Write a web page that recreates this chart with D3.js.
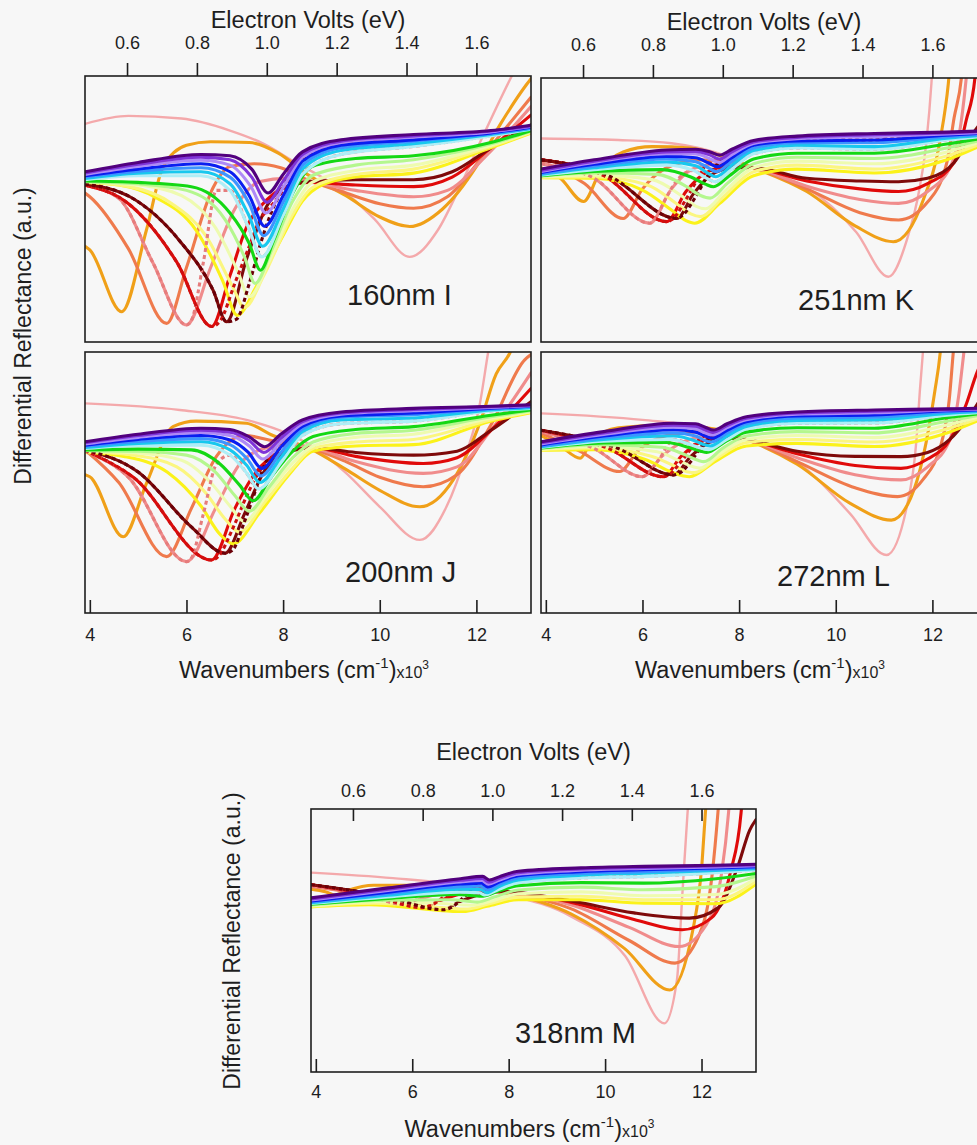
<!DOCTYPE html>
<html>
<head>
<meta charset="utf-8">
<script src="https://cdn.jsdelivr.net/npm/d3@7"></script>
<style>
  html, body { margin: 0; padding: 0; background: #f7f7f7; }
  svg { display: block; font-family: "Liberation Sans", Arial, Helvetica, sans-serif; }
</style>
</head>
<body>
<svg id="chart" width="977" height="1145"></svg>
<script>
// ---------- data ----------
const evTicks = [0.6, 0.8, 1.0, 1.2, 1.4, 1.6];
const wnTicks = [4, 6, 8, 10, 12];
// eV axis anchors: [eV, wavenumber x10^3 position]
const evAnchors = [[0.6, 4.77], [1.6, 12.0]];
const wnDomain = [3.9, 13.13];
const panelLabels = ["160nm I", "200nm J", "251nm K", "272nm L", "318nm M"];

// series order: pink, orange, orange-red, salmon, red, maroon,
// dashed salmon, dashed red, dashed maroon,
// yellow, light yellow, pale yellow-green, light green, green,
// pale cyan, cyan, light blue, blue, lavender, purple, dark purple
// points: [wavenumber (x10^3 cm^-1), reflectance (a.u., 0-100)]
const curves160 = [
  [[3.9,82],[4.8,85],[5.9,84],[6.9,79.5],[7.6,74.5],[8.3,67],[8.8,62],[9.3,56],[9.9,46],[10.62,32],[11.2,42],[11.65,58],[12.1,76],[12.69,98.5],[12.9,106]],
  [[3.9,36],[4.0,34.6],[4.66,11.4],[5.17,42],[5.52,66],[6.0,74],[6.5,75.3],[7.3,75],[7.9,71],[8.5,63],[9.3,55],[10.0,47],[10.62,43.4],[11.3,50],[12.0,66],[12.5,82],[13.03,96.6],[13.13,99]],
  [[3.9,56],[4.0,54.6],[4.8,35],[5.59,7],[6.0,28],[6.55,58],[6.9,66],[7.4,67],[7.95,65.5],[8.5,61],[9.3,56],[10.0,52],[10.7,50.3],[11.4,54.6],[12.1,69],[12.5,78],[13.13,92]],
  [[3.9,59],[4.6,54],[5.3,30],[6.0,6.4],[6.5,28],[7.0,50],[7.52,60.3],[8.07,61.5],[8.55,60.3],[9.5,57],[10.7,54.6],[11.4,57],[12.2,70],[13.13,88.5]],
  [[3.9,59],[4.8,52],[5.8,30],[6.52,5.8],[6.9,25],[7.24,43],[7.66,53.4],[8.07,58.4],[8.55,60],[9.5,59],[10.7,58.4],[11.5,62],[12.3,73],[13.13,85.3]],
  [[3.9,59.3],[4.83,54.6],[5.86,38],[6.55,19.5],[6.83,7.6],[7.24,31],[7.66,51],[8.07,58.4],[8.55,60.3],[9.5,61],[10.7,61],[11.5,64],[12.3,73],[13.13,81.6]],
  [[3.9,59],[4.6,54],[5.3,30],[6.0,6.4],[6.1,8],[6.35,30],[6.62,57],[6.9,57],[7.26,44],[7.56,32],[8.0,47.5],[8.4,63],[9.2,70.5],[10.7,73.5],[12.3,77.5],[13.13,80]],
  [[3.9,59],[4.8,52],[5.8,30],[6.52,5.8],[6.7,8],[7.0,22],[7.3,36],[7.52,46],[7.7,50],[8.0,57],[8.4,68],[9.2,74],[10.7,76],[12.3,78.6],[13.13,80.8]],
  [[3.9,59.3],[4.83,54.6],[5.86,38],[6.55,19.5],[6.83,7.6],[7.03,8.5],[7.3,22],[7.55,38],[7.72,47],[8.0,58],[8.4,69.5],[9.2,75],[10.7,77],[12.3,79],[13.13,81]],
  [[3.9,60],[4.6,59],[5.4,54],[6.2,42],[6.75,23],[7.05,10],[7.45,21],[8.0,40],[8.4,53],[8.8,59],[9.5,62],[10.7,63.5],[12.3,73],[13.13,78.5]],
  [[3.9,60.1],[4.8,58.5],[5.7,52],[6.4,40],[6.95,21],[7.2,13],[7.6,25],[8.2,48],[8.6,58],[9.5,63],[10.7,65],[12.3,73.5],[13.13,78.8]],
  [[3.9,60.2],[5.0,59],[5.9,55],[6.6,43],[7.05,27],[7.3,17],[7.7,30],[8.2,50],[8.6,60],[9.5,64.5],[10.7,66.5],[12.3,74],[13.13,79]],
  [[3.9,60.3],[5.0,59.5],[6.0,57],[6.8,46],[7.2,32],[7.42,22],[7.75,34],[8.2,53],[8.6,62.5],[9.5,66.5],[10.7,68.5],[12.3,74.5],[13.13,79.2]],
  [[3.9,60.5],[5.0,60],[6.1,58.4],[6.9,48.5],[7.3,37],[7.53,27],[7.8,38],[8.2,56],[8.6,66],[9.5,69],[10.7,70],[12.3,75],[13.13,79.5]],
  [[3.9,61],[5.0,62.5],[6.3,62.5],[6.9,57],[7.26,44],[7.56,32],[8.0,47.5],[8.4,63],[9.2,70.5],[10.7,73.5],[12.3,77.5],[13.13,80]],
  [[3.9,61.5],[5.0,63.5],[6.3,64],[6.9,59.5],[7.28,48],[7.58,36],[8.0,50],[8.4,65],[9.2,72],[10.7,74.5],[12.3,78],[13.13,80.2]],
  [[3.9,62],[5.0,64.2],[6.3,65.5],[6.9,62],[7.3,52],[7.6,40],[8.0,52.5],[8.4,66.5],[9.2,73],[10.7,75.5],[12.3,78.3],[13.13,80.5]],
  [[3.9,62.5],[5.0,65],[6.3,67],[6.9,64],[7.3,55],[7.62,43.5],[8.0,55],[8.4,68],[9.2,74],[10.7,76],[12.3,78.6],[13.13,80.8]],
  [[3.9,63],[5.0,66],[6.3,68.3],[6.9,66.5],[7.33,58.5],[7.65,48.5],[8.0,58],[8.4,69.5],[9.2,75],[10.7,77],[12.3,79],[13.13,81]],
  [[3.9,63.5],[5.0,66.8],[6.3,69.5],[6.9,68.5],[7.35,62],[7.67,52.5],[8.0,60.5],[8.4,70.5],[9.2,75.5],[10.7,77.5],[12.3,79.3],[13.13,81.2]],
  [[3.9,64],[5.0,67.5],[6.3,70.5],[6.9,70],[7.35,65],[7.69,56],[8.0,63],[8.4,71.5],[9.2,76],[10.7,78],[12.3,79.5],[13.13,81.5]]
];

const curves200 = [
  [[3.9,80.3],[5.86,77.8],[7.24,74],[7.93,70],[8.62,63.7],[9.31,53.5],[10.0,40.7],[10.83,28],[11.38,40.7],[11.79,61],[12.07,80],[12.24,99.5],[12.3,106]],
  [[3.9,53],[4.0,52.2],[4.69,29.2],[5.17,49.6],[5.72,71.4],[6.2,73.5],[7.24,72.7],[7.79,68],[8.55,63],[9.3,55],[10.0,47],[10.83,40.7],[11.52,51],[12.07,72.7],[12.41,91.6],[12.69,99.5],[12.8,104]],
  [[3.9,62.5],[4.6,50],[5.59,21.6],[6.1,40],[6.62,60],[7.2,68],[7.79,66],[8.55,63.3],[9.3,58],[10.0,52],[10.9,48.4],[11.6,53],[12.3,72],[13.0,97],[13.13,99]],
  [[3.9,62],[4.8,52],[6.0,19.7],[6.6,40],[7.1,57],[7.6,63],[8.1,64.5],[8.62,63.3],[9.5,58],[10.9,53.5],[11.6,56],[12.3,70],[13.13,92]],
  [[3.9,62.3],[4.9,52],[6.52,20.3],[7.0,40],[7.4,53],[7.9,61],[8.62,63.3],[9.5,60],[10.9,57.3],[11.6,59.5],[12.3,70],[13.13,86]],
  [[3.9,62.5],[5.0,54],[6.1,33],[6.8,22.9],[7.2,38],[7.6,54],[8.1,61.5],[8.62,63.3],[9.5,61.5],[10.7,60.5],[11.6,62],[12.3,70],[13.13,81]],
  [[3.9,62],[4.8,52],[6.0,19.7],[6.1,21],[6.35,38],[6.62,57],[6.9,60.5],[7.23,54],[7.5,47.5],[7.95,57.5],[8.4,68],[9.2,72.5],[10.7,73.5],[12.3,77.4],[13.13,78.4]],
  [[3.9,62.3],[4.9,52],[6.52,20.3],[6.65,21.5],[6.95,32],[7.25,45],[7.5,54],[7.7,58],[7.95,63.5],[8.4,71.5],[9.2,75.5],[10.7,76.6],[12.3,78.5],[13.13,79.2]],
  [[3.9,62.5],[5.0,54],[6.1,33],[6.8,22.9],[6.95,24],[7.2,35],[7.45,48],[7.6,56],[7.95,65.5],[8.4,72.5],[9.2,76.2],[10.7,77.5],[12.3,78.8],[13.13,79.4]],
  [[3.9,61.5],[4.7,60],[5.6,54],[6.3,41],[6.7,30],[6.97,26.5],[7.5,38],[8.1,52.5],[8.62,62],[9.5,64],[10.7,64.5],[12.3,73.5],[13.13,76.8]],
  [[3.9,61.8],[4.9,60.5],[5.8,56],[6.4,46],[6.8,36],[7.1,31],[7.6,42],[8.2,55.5],[8.62,63],[9.5,65.5],[10.7,66.5],[12.3,74],[13.13,77]],
  [[3.9,62],[5.0,61.3],[5.9,58.5],[6.5,50],[6.9,41],[7.2,35],[7.65,45],[8.2,57.5],[8.62,64],[9.5,67.3],[10.7,68.5],[12.3,74.6],[13.13,77.2]],
  [[3.9,62.2],[5.0,62],[6.0,60.5],[6.6,54],[7.0,45],[7.3,39],[7.7,48],[8.2,59.5],[8.62,65.5],[9.5,68.8],[10.7,70],[12.3,75.2],[13.13,77.5]],
  [[3.9,62.5],[5.0,62.8],[6.1,62.5],[6.7,57],[7.1,49],[7.38,43],[7.75,52],[8.2,62],[8.62,67.6],[9.5,70.3],[10.7,71.4],[12.3,75.8],[13.13,77.8]],
  [[3.9,63],[5.0,64.2],[6.3,64.3],[6.9,60.5],[7.23,54],[7.5,47.5],[7.95,57.5],[8.4,68],[9.2,72.5],[10.7,73.5],[12.3,77.4],[13.13,78.4]],
  [[3.9,63.4],[5.0,65],[6.3,65.6],[6.9,62.5],[7.25,56.5],[7.52,50],[7.95,59.5],[8.4,69.5],[9.2,74],[10.7,74.7],[12.3,77.8],[13.13,78.7]],
  [[3.9,63.8],[5.0,65.7],[6.3,66.8],[6.9,64.5],[7.26,59],[7.54,52.5],[7.95,61.5],[8.4,70.5],[9.2,75],[10.7,76],[12.3,78.2],[13.13,79]],
  [[3.9,64.3],[5.0,66.5],[6.3,68],[6.9,66.3],[7.28,61.5],[7.56,55.4],[7.95,63.5],[8.4,71.5],[9.2,75.5],[10.7,76.6],[12.3,78.5],[13.13,79.2]],
  [[3.9,64.8],[5.0,67.3],[6.3,69.2],[6.9,68],[7.3,64],[7.58,59],[7.95,65.5],[8.4,72.5],[9.2,76.2],[10.7,77.5],[12.3,78.8],[13.13,79.4]],
  [[3.9,65.2],[5.0,68],[6.3,70],[6.9,69.3],[7.3,66],[7.6,61.5],[7.95,67],[8.4,73.3],[9.2,76.6],[10.7,78],[12.3,79],[13.13,79.6]],
  [[3.9,65.6],[5.0,68.5],[6.3,70.8],[6.9,70.3],[7.3,67.5],[7.62,63.7],[7.95,68.5],[8.4,74],[9.2,77],[10.7,78.4],[12.3,79.2],[13.13,79.8]]
];

const curves251 = [
  [[3.9,77.1],[5.5,76.5],[6.6,75.3],[7.8,70],[8.3,65.8],[9.4,58.5],[10.43,41.5],[11.09,24.7],[11.47,38.6],[11.74,58.8],[11.88,76.5],[11.98,98],[12.02,110]],
  [[3.9,66],[4.3,62],[4.78,53.2],[5.12,64.4],[5.6,72],[6.2,74],[7.0,73.5],[7.7,70],[8.3,66],[9.4,57],[10.4,44],[11.19,38],[11.81,53.8],[12.16,76.5],[12.33,98],[12.38,108]],
  [[3.9,68],[4.8,60],[5.6,46.8],[6.0,58],[6.5,66],[7.2,69],[7.8,68],[8.3,66],[9.4,58],[10.5,49],[11.3,46.2],[11.9,53],[12.3,68],[12.45,85],[12.6,100],[12.64,108]],
  [[3.9,67.5],[5.0,62],[6.15,45],[6.6,58],[7.1,66],[7.7,67.5],[8.3,66],[9.4,59],[10.5,54],[11.3,52.5],[11.9,57],[12.4,67.5],[12.6,84],[12.7,100],[12.74,108]],
  [[3.9,69],[5.2,63],[6.5,45.6],[6.9,57],[7.3,64],[7.8,66.5],[8.3,66],[9.4,61],[10.5,58],[11.3,57],[11.9,60],[12.45,68],[12.7,84],[12.88,100],[12.92,108]],
  [[3.9,69],[5.3,63],[6.71,46.8],[7.05,56],[7.4,63],[7.9,66],[8.3,66],[9.4,62],[10.5,61],[11.3,60.7],[11.9,62],[12.45,68],[12.8,78],[13.13,86]],
  [[3.9,67.5],[5.0,62],[6.15,45],[6.25,46.5],[6.5,55],[6.75,62],[7.05,65],[7.33,62],[7.5,60.7],[7.85,65.5],[8.3,71.3],[9.2,73.5],[10.8,73],[12.3,76.5],[13.13,78]],
  [[3.9,69],[5.2,63],[6.5,45.6],[6.62,46.5],[6.9,54],[7.15,62],[7.37,67.8],[7.55,66.4],[7.85,69.8],[8.3,74.5],[9.2,76.2],[10.8,76.5],[12.3,78.3],[13.13,79.2]],
  [[3.9,69],[5.3,63],[6.71,46.8],[6.83,48],[7.1,55],[7.35,63],[7.58,68],[7.85,71],[8.3,75.2],[9.2,77],[10.8,77.8],[12.3,78.8],[13.13,79.5]],
  [[3.9,62.2],[5.0,62],[6.0,57.5],[6.6,50],[6.9,46],[7.08,45],[7.6,52.5],[8.3,63],[9.2,65.5],[10.8,64],[12.3,69],[13.13,75.5]],
  [[3.9,62.4],[5.0,62.6],[6.1,59.5],[6.7,52.5],[7.0,48.5],[7.2,47.5],[7.65,54.5],[8.3,64.5],[9.2,67],[10.8,65.5],[12.3,70.5],[13.13,76]],
  [[3.9,62.6],[5.0,63.3],[6.2,61.5],[6.8,55.5],[7.1,51.5],[7.3,50.5],[7.7,57],[8.3,66],[9.2,68.5],[10.8,67.5],[12.3,72],[13.13,76.5]],
  [[3.9,62.8],[5.0,64],[6.3,63.5],[6.9,59],[7.2,55.5],[7.4,54.5],[7.75,60],[8.3,67.5],[9.2,70],[10.8,69.5],[12.3,73.5],[13.13,77]],
  [[3.9,63],[5.0,64.6],[6.4,65.3],[7.0,62.5],[7.3,59.8],[7.47,58.8],[7.8,63],[8.3,69.3],[9.2,71.5],[10.8,71.5],[12.3,75],[13.13,77.5]],
  [[3.9,63.2],[5.0,65.3],[6.5,67],[7.05,65],[7.33,62],[7.5,60.7],[7.85,65.5],[8.3,71.3],[9.2,73.5],[10.8,73],[12.3,76.5],[13.13,78]],
  [[3.9,63.5],[5.0,66],[6.5,68.2],[7.1,66.8],[7.35,64],[7.52,62.6],[7.85,67],[8.3,72.5],[9.2,74.5],[10.8,74],[12.3,77.2],[13.13,78.4]],
  [[3.9,63.8],[5.0,66.6],[6.5,69.3],[7.1,68.3],[7.36,66],[7.53,64.5],[7.85,68.5],[8.3,73.5],[9.2,75.5],[10.8,75.5],[12.3,77.8],[13.13,78.8]],
  [[3.9,64.2],[5.0,67.3],[6.5,70.3],[7.1,69.8],[7.37,67.8],[7.55,66.4],[7.85,69.8],[8.3,74.5],[9.2,76.2],[10.8,76.5],[12.3,78.3],[13.13,79.2]],
  [[3.9,64.6],[5.0,68],[6.5,71.3],[7.1,71.2],[7.38,69.5],[7.58,68],[7.85,71],[8.3,75.2],[9.2,77],[10.8,77.8],[12.3,78.8],[13.13,79.5]],
  [[3.9,65],[5.0,68.5],[6.5,72],[7.1,72.2],[7.4,70.8],[7.59,69.3],[7.85,72],[8.3,75.8],[9.2,77.5],[10.8,78.5],[12.3,79.2],[13.13,79.8]],
  [[3.9,65.5],[5.0,69],[6.5,72.7],[7.1,73],[7.4,72],[7.6,70.8],[7.85,73],[8.3,76.3],[9.2,78],[10.8,79],[12.3,79.5],[13.13,80]]
];

const curves272 = [
  [[3.9,76.5],[6.0,74],[7.3,71],[8.15,66.3],[9.2,58],[10.3,38],[11.05,22.2],[11.47,40.7],[11.67,66.3],[11.74,85],[11.8,99],[11.84,110]],
  [[3.9,68],[4.3,64],[4.71,59.3],[4.95,66],[5.5,71],[6.5,72],[7.5,70.5],[8.15,66.5],[9.2,57],[10.3,42],[11.15,35.6],[11.55,44],[11.81,60],[12.05,85],[12.16,99.5],[12.2,108]],
  [[3.9,69],[4.7,62],[5.53,54.2],[5.9,62],[6.5,68],[7.3,69.5],[8.15,66.5],[9.2,58],[10.4,48],[11.28,44.6],[11.8,51],[12.2,66],[12.35,82],[12.43,99.5],[12.47,108]],
  [[3.9,69.5],[5.0,63],[6.0,52.2],[6.4,60],[6.9,66],[7.5,68],[8.15,66.5],[9.2,59.5],[10.4,53],[11.35,51],[11.9,56],[12.36,66.3],[12.55,84],[12.64,98],[12.7,108]],
  [[3.9,70],[5.3,63],[6.43,52.2],[6.8,60],[7.2,65.5],[7.7,67.5],[8.15,66.5],[9.2,61],[10.4,56.5],[11.35,55.4],[11.9,59],[12.36,66.3],[12.7,80],[12.92,92],[13.13,100]],
  [[3.9,70],[5.5,63],[6.64,52.9],[7.0,60],[7.4,65.5],[7.8,67],[8.15,66.5],[9.2,62],[10.4,60],[11.35,59.9],[11.9,61.5],[12.36,66.5],[12.75,75],[13.13,86]],
  [[3.9,69.5],[5.0,63],[6.0,52.2],[6.1,53.5],[6.35,59],[6.64,66.5],[7.0,64.5],[7.24,63],[7.37,62.6],[7.75,66.5],[8.15,70.5],[9.2,72.7],[10.8,72.8],[12.3,75.8],[13.13,77]],
  [[3.9,70],[5.3,63],[6.43,52.2],[6.55,53],[6.8,58],[7.05,64],[7.3,67.8],[7.44,67],[7.75,70],[8.15,73.3],[9.2,75.5],[10.8,75.9],[12.3,77.5],[13.13,77.9]],
  [[3.9,70],[5.5,63],[6.64,52.9],[6.76,53.5],[7.0,58],[7.25,64.5],[7.45,68.2],[7.75,71],[8.15,74],[9.2,76.2],[10.8,76.7],[12.3,77.8],[13.13,78.1]],
  [[3.9,62.4],[5.0,62.6],[6.1,58.5],[6.6,54],[6.85,52.5],[6.97,52.2],[7.5,58],[8.15,64],[9.2,65],[10.8,63.8],[12.3,69],[13.13,75.2]],
  [[3.9,62.6],[5.0,63.2],[6.2,60],[6.7,56],[6.95,54],[7.08,53.8],[7.55,59.5],[8.15,65.3],[9.2,66.5],[10.8,65.5],[12.3,70.5],[13.13,75.6]],
  [[3.9,62.8],[5.0,63.8],[6.3,61.8],[6.8,58],[7.05,56],[7.18,55.5],[7.6,61],[8.15,66.5],[9.2,68],[10.8,67.2],[12.3,72],[13.13,76]],
  [[3.9,63],[5.1,64.5],[6.4,63.5],[6.9,60.5],[7.15,58.5],[7.27,58],[7.65,63],[8.15,67.8],[9.2,69.5],[10.8,69],[12.3,73.5],[13.13,76.3]],
  [[3.9,63.2],[5.2,65.2],[6.5,65.3],[6.95,63.5],[7.2,62],[7.33,61.5],[7.7,65.5],[8.15,69.3],[9.2,71],[10.8,70.8],[12.3,74.8],[13.13,76.7]],
  [[3.9,63.4],[5.2,65.8],[6.6,66.5],[7.0,64.5],[7.24,63],[7.37,62.6],[7.75,66.5],[8.15,70.5],[9.2,72.7],[10.8,72.8],[12.3,75.8],[13.13,77]],
  [[3.9,63.7],[5.2,66.5],[6.64,67.8],[7.05,66.2],[7.26,64.6],[7.4,64],[7.75,67.8],[8.15,71.5],[9.2,73.8],[10.8,74],[12.3,76.5],[13.13,77.3]],
  [[3.9,64],[5.2,67.1],[6.64,69],[7.1,67.8],[7.28,66.2],[7.42,65.5],[7.75,69],[8.15,72.5],[9.2,74.7],[10.8,75],[12.3,77],[13.13,77.6]],
  [[3.9,64.4],[5.2,67.8],[6.64,70.2],[7.1,69.3],[7.3,67.8],[7.44,67],[7.75,70],[8.15,73.3],[9.2,75.5],[10.8,75.9],[12.3,77.5],[13.13,77.9]],
  [[3.9,64.8],[5.2,68.4],[6.64,71.2],[7.1,70.6],[7.3,69],[7.45,68.2],[7.75,71],[8.15,74],[9.2,76.2],[10.8,76.7],[12.3,77.8],[13.13,78.1]],
  [[3.9,65.2],[5.2,69],[6.64,72],[7.1,71.6],[7.3,70.2],[7.46,69.2],[7.75,71.8],[8.15,74.6],[9.2,76.6],[10.8,77.3],[12.3,78],[13.13,78.3]],
  [[3.9,65.6],[5.2,69.5],[6.64,72.7],[7.1,72.5],[7.3,71.2],[7.47,70.1],[7.75,72.5],[8.15,75.2],[9.2,77],[10.8,77.8],[12.3,78.2],[13.13,78.5]]
];

const curves318 = [
  [[3.9,75.8],[5.6,73.7],[7.0,71],[7.83,68],[9.31,59],[10.42,44],[11.23,18.5],[11.49,35],[11.6,66.8],[11.71,98.5],[11.75,108]],
  [[3.9,69.5],[4.2,68.5],[4.4,67.3],[4.65,69],[5.2,71],[6.5,71],[7.83,68.5],[9.3,60],[10.4,47],[11.34,31.2],[11.82,54],[12.01,79.4],[12.08,98.5],[12.12,108]],
  [[3.9,70.5],[4.8,68],[5.47,64.2],[5.8,66.8],[6.4,69],[7.3,69.5],[7.83,68.5],[9.3,62],[10.5,50],[11.45,41.4],[11.95,52],[12.22,75],[12.34,98.5],[12.38,108]],
  [[3.9,70.8],[5.0,67.5],[5.8,63.8],[6.2,66],[6.8,68.5],[7.83,68.5],[9.3,63.5],[10.5,55],[11.53,47.7],[12.1,56],[12.42,76],[12.56,98.5],[12.6,108]],
  [[3.9,71.2],[5.2,67],[6.2,62.5],[6.55,65],[7.1,68],[7.83,68.6],[9.3,64.5],[10.6,58],[11.6,54.1],[12.2,58.5],[12.6,76],[12.82,98.5],[12.86,108]],
  [[3.9,71.2],[5.4,67],[6.65,61.7],[6.95,64.5],[7.4,67.5],[7.83,68.7],[9.3,65],[10.6,60.5],[11.75,58.5],[12.35,62.5],[12.75,78],[13.0,92],[13.13,96]],
  [[3.9,70.8],[5.0,67.5],[5.8,63.8],[5.9,64],[6.2,66.5],[6.6,67.6],[7.0,68.4],[7.4,68.1],[7.5,67.3],[7.8,69.5],[8.2,72],[9.5,73.8],[10.8,74.3],[12.3,75.8],[13.13,76.8]],
  [[3.9,71.2],[5.2,67],[6.2,62.5],[6.35,63],[6.7,67],[7.0,69.5],[7.42,70.6],[7.56,69.3],[7.8,71.4],[8.2,73.8],[9.5,75.5],[10.8,76.2],[12.3,77.1],[13.13,77.7]],
  [[3.9,71.2],[5.4,67],[6.65,61.7],[6.8,62.5],[7.1,67],[7.44,72.8],[7.58,71.4],[7.8,72.9],[8.2,75.2],[9.5,76.7],[10.8,77.4],[12.3,78],[13.13,78.4]],
  [[3.9,62.8],[5.1,63.6],[6.5,61.5],[6.9,61],[7.05,61],[7.55,63],[8.2,65.5],[9.5,65.5],[10.8,64.2],[12.3,64],[13.13,71.5]],
  [[3.9,63],[5.2,64.2],[6.6,62.5],[7.0,62],[7.15,62],[7.6,64],[8.2,66.5],[9.5,66.8],[10.8,65.5],[12.3,65.5],[13.13,72.5]],
  [[3.9,63.2],[5.3,64.8],[6.7,64],[7.1,63.5],[7.25,63.4],[7.65,65],[8.2,67.8],[9.5,68.5],[10.8,67],[12.3,67.5],[13.13,73.5]],
  [[3.9,63.5],[5.4,65.3],[6.8,65.5],[7.2,64.8],[7.35,64.6],[7.7,66.5],[8.2,69.2],[9.5,70.3],[10.8,69.3],[12.3,70.5],[13.13,74.5]],
  [[3.9,63.8],[5.5,66],[6.9,67.5],[7.3,67],[7.43,66.8],[7.75,68.5],[8.2,70.8],[9.5,72],[10.8,71.8],[12.3,73.5],[13.13,75.5]],
  [[3.9,64.1],[5.5,66.6],[7.0,68.4],[7.4,68.1],[7.5,67.3],[7.8,69.5],[8.2,72],[9.5,73.8],[10.8,74.3],[12.3,75.8],[13.13,76.8]],
  [[3.9,64.4],[5.5,67.2],[7.0,69.5],[7.41,69.4],[7.55,68.2],[7.8,70.5],[8.2,73],[9.5,74.8],[10.8,75.6],[12.3,76.6],[13.13,77.3]],
  [[3.9,64.7],[5.5,67.8],[7.0,70.5],[7.42,70.6],[7.56,69.3],[7.8,71.4],[8.2,73.8],[9.5,75.5],[10.8,76.2],[12.3,77.1],[13.13,77.7]],
  [[3.9,65],[5.5,68.4],[7.0,71.5],[7.43,71.8],[7.57,70.4],[7.8,72.2],[8.2,74.6],[9.5,76.2],[10.8,76.9],[12.3,77.6],[13.13,78.1]],
  [[3.9,65.4],[5.5,69],[7.0,72.3],[7.44,72.8],[7.58,71.4],[7.8,72.9],[8.2,75.2],[9.5,76.7],[10.8,77.4],[12.3,78],[13.13,78.4]],
  [[3.9,65.8],[5.5,69.5],[7.0,72.9],[7.45,73.6],[7.59,72.2],[7.8,73.6],[8.2,75.8],[9.5,77.2],[10.8,77.8],[12.3,78.3],[13.13,78.7]],
  [[3.9,66.2],[5.5,70],[7.0,73.5],[7.46,74.4],[7.6,73],[7.8,74.2],[8.2,76.3],[9.5,77.6],[10.8,78.2],[12.3,78.6],[13.13,79]]
];

// ---------- styling ----------
const palette = [
  "#f4a9ab", "#f0a018", "#ef7a4c", "#f08c8c", "#e00a0a", "#7e0a0a",
  "#e67c7c", "#cc1010", "#6a0008",
  "#fbf21a", "#fbf680", "#eefbb0", "#b4f78e", "#14d814",
  "#aeeef6", "#18c8ee", "#3c94ff", "#0a1ef0", "#ae8af6", "#7f34d8", "#52007e"
];
const dashedSet = new Set([6, 7, 8]);
// warm family underneath, dashed transitions over the yellows, cool bundle on top
const drawOrder = [0,1,2,3,4,5, 9,10,11, 6,7,8, 12,13,14,15,16,17,18,19,20];

const panels = [
  { data: curves160, label: panelLabels[0], x0: 85,  y0: 76,  w: 446, h: 266, top: "out", bottom: false, lx: 347, ly: 305 },
  { data: curves200, label: panelLabels[1], x0: 85,  y0: 352, w: 446, h: 261, top: null,  bottom: true,  lx: 345, ly: 582 },
  { data: curves251, label: panelLabels[2], x0: 541, y0: 78,  w: 446, h: 264, top: "out", bottom: false, lx: 798, ly: 310 },
  { data: curves272, label: panelLabels[3], x0: 541, y0: 352, w: 446, h: 261, top: null,  bottom: true,  lx: 777, ly: 586 },
  { data: curves318, label: panelLabels[4], x0: 311, y0: 809, w: 445, h: 263, top: "in",  bottom: true,  lx: 515, ly: 1043 }
];

const svg = d3.select("#chart");
svg.append("rect").attr("width", 977).attr("height", 1145).attr("fill", "#f7f7f7");
const ink = "#1e1e1e";
const FONT = "'Liberation Sans', Arial, Helvetica, sans-serif";

panels.forEach((p, pi) => {
  const x = d3.scaleLinear().domain(wnDomain).range([p.x0, p.x0 + p.w]);
  const y = d3.scaleLinear().domain([0, 100]).range([p.y0 + p.h, p.y0]);
  const ev = d3.scaleLinear()
    .domain(evAnchors.map(a => a[0]))
    .range(evAnchors.map(a => x(a[1])));

  const clipId = "clip" + pi;
  svg.append("clipPath").attr("id", clipId)
    .append("rect").attr("x", p.x0).attr("y", p.y0).attr("width", p.w).attr("height", p.h);

  const line = d3.line()
    .x(d => x(d[0]))
    .y(d => y(d[1]))
    .curve(d3.curveMonotoneX);

  const g = svg.append("g").attr("clip-path", `url(#${clipId})`);
  drawOrder.forEach(i => {
    g.append("path")
      .datum(p.data[i])
      .attr("d", line)
      .attr("fill", "none")
      .attr("stroke", palette[i])
      .attr("stroke-width", i === 0 ? 2.4 : 3.1)
      .attr("stroke-linejoin", "round")
      .attr("stroke-linecap", dashedSet.has(i) ? "butt" : "round")
      .attr("stroke-dasharray", dashedSet.has(i) ? "4,3" : null);
  });

  // frame
  svg.append("rect")
    .attr("x", p.x0).attr("y", p.y0).attr("width", p.w).attr("height", p.h)
    .attr("fill", "none").attr("stroke", ink).attr("stroke-width", 1.6);

  // top electron-volt axis
  if (p.top) {
    const inward = p.top === "in";
    const axTop = d3.axisTop(ev).tickValues(evTicks).tickFormat(d3.format(".1f"))
      .tickSizeInner(inward ? -12 : 13).tickSizeOuter(0).tickPadding(inward ? 12 : 14);
    const ga = svg.append("g").attr("transform", `translate(0,${p.y0})`).call(axTop);
    ga.select(".domain").remove();
    ga.selectAll("line").attr("stroke", ink).attr("stroke-width", 1.6);
    ga.selectAll("text").attr("font-family", FONT).attr("font-size", 18).attr("fill", ink);
    svg.append("text")
      .attr("x", p.x0 + p.w / 2).attr("y", inward ? p.y0 - 49 : p.y0 - 48)
      .attr("text-anchor", "middle").attr("font-family", FONT).attr("font-size", 23.5).attr("fill", ink)
      .text("Electron Volts (eV)");
  }

  // bottom wavenumber axis
  if (p.bottom) {
    const axBot = d3.axisBottom(x).tickValues(wnTicks).tickFormat(d3.format("d"))
      .tickSizeInner(-13).tickSizeOuter(0).tickPadding(pi === 4 ? 13.5 : 15.5);
    const gb = svg.append("g").attr("transform", `translate(0,${p.y0 + p.h})`).call(axBot);
    gb.select(".domain").remove();
    gb.selectAll("line").attr("stroke", ink).attr("stroke-width", 1.6);
    gb.selectAll("text").attr("font-family", FONT).attr("font-size", 18).attr("fill", ink);

    const t = svg.append("text")
      .attr("x", p.x0 + p.w / 2 - 4).attr("y", p.y0 + p.h + 65)
      .attr("text-anchor", "middle").attr("font-family", FONT).attr("font-size", 23.5).attr("fill", ink);
    t.append("tspan").text("Wavenumbers (cm");
    t.append("tspan").attr("font-size", 15).attr("dy", -10).text("-1");
    t.append("tspan").attr("dy", 10).text(")");
    t.append("tspan").attr("font-size", 16).text("x10");
    t.append("tspan").attr("font-size", 12).attr("dy", -9).text("3");
  }

  // panel label
  svg.append("text")
    .attr("x", p.lx).attr("y", p.ly)
    .attr("font-family", FONT).attr("font-size", 29).attr("fill", ink)
    .text(p.label);
});

// y-axis titles
[[23, 336], [232, 941]].forEach(([cx, cy]) => {
  svg.append("text")
    .attr("transform", `translate(${cx},${cy}) rotate(-90)`)
    .attr("text-anchor", "middle").attr("dominant-baseline", "central")
    .attr("font-family", FONT).attr("font-size", 23).attr("fill", ink)
    .text("Differential Reflectance (a.u.)");
});
</script>
</body>
</html>
